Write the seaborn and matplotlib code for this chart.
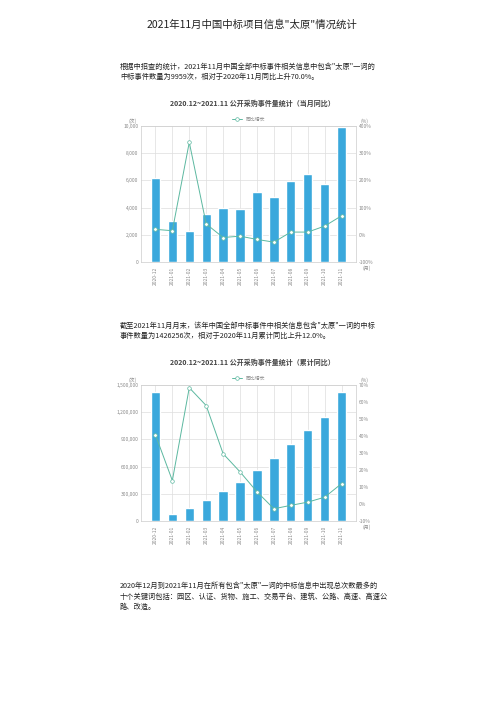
import numpy as np
import pandas as pd
import seaborn as sns
import matplotlib.pyplot as plt

sns.set_style("white")
plt.rcParams['font.family'] = ['Noto Sans CJK SC', 'DejaVu Sans']

months = ['2020-12', '2021-01', '2021-02', '2021-03', '2021-04', '2021-05',
          '2021-06', '2021-07', '2021-08', '2021-09', '2021-10', '2021-11']
monthly_count = [6150, 3000, 2300, 3500, 3950, 3900, 5150, 4800, 5950, 6450, 5700, 9959]
monthly_yoy = [20, 15, 340, 40, -10, -5, -17, -27, 10, 10, 32, 70]
cum_count = [1426256, 80000, 140000, 230000, 330000, 430000, 560000, 690000,
             850000, 1000000, 1150000, 1426256]
cum_yoy = [40.7, 13.8, 68.4, 57.9, 29.6, 18.9, 7.2, -2.8, -0.8, 1.1, 4.0, 12.0]

BAR = '#3aa8dc'
LINE = '#5cb8a0'

fig = plt.figure(figsize=(5.04, 7.13), dpi=100)
W, H = 504, 713


def box(l, t, r, b):
    return [l / W, 1 - b / H, (r - l) / W, (b - t) / H]


def draw(rect, counts, yoy, ymax, lticks, lfmt, rlim, rticks, title, top):
    ax = fig.add_axes(rect)
    df = pd.DataFrame({'month': months, 'count': counts, 'yoy': yoy})
    sns.barplot(data=df, x='month', y='count', color=BAR, saturation=1, width=0.55,
                ax=ax, zorder=2)
    ax.set_ylim(0, ymax)
    ax.set_yticks(lticks)
    ax.set_yticklabels([lfmt(v) for v in lticks], fontsize=3.5, color='#888888')
    ax.set_xlabel('')
    ax.set_ylabel('')
    ax.tick_params(axis='x', labelsize=3.5, labelcolor='#888888', rotation=90, length=0)
    ax.tick_params(axis='y', length=0, pad=2)
    ax.grid(True, color='#dddddd', linewidth=0.5, zorder=0)
    for s in ax.spines.values():
        s.set_color('#cccccc')
        s.set_linewidth(0.5)
    ax2 = ax.twinx()
    ax2.plot(range(len(months)), yoy, color=LINE, linewidth=0.7, zorder=3, label='同比增长',
             marker='o', markersize=2.6, markerfacecolor='white', markeredgecolor=LINE,
             markeredgewidth=0.5)
    ax2.set_ylim(*rlim)
    ax2.set_yticks(rticks)
    ax2.set_yticklabels([f'{v}%' for v in rticks], fontsize=3.5, color='#888888')
    ax2.tick_params(axis='y', length=0, pad=2)
    ax2.set_ylabel('')
    for s in ax2.spines.values():
        s.set_visible(False)
    leg = ax2.legend(loc='lower center', bbox_to_anchor=(0.5, 1.0), frameon=False,
                     fontsize=3.5, handlelength=2)
    for t in leg.get_texts():
        t.set_color('#888888')
    ax.text(-0.06, 1.02, '(次)', transform=ax.transAxes, fontsize=3.5, color='#888888')
    ax.text(1.02, 1.02, '(%)', transform=ax.transAxes, fontsize=3.5, color='#888888')
    ax.text(1.03, -0.06, '(月)', transform=ax.transAxes, fontsize=3.5, color='#888888')
    fig.text(0.5, 1 - top / H, title, ha='center', fontsize=5, fontweight='bold', color='#444444')


draw(box(141, 126, 356, 262), monthly_count, monthly_yoy, 10000,
     [0, 2000, 4000, 6000, 8000, 10000], lambda v: f'{v:,}',
     (-100, 400), [-100, 0, 100, 200, 300, 400],
     '2020.12~2021.11 公开采购事件量统计（当月同比）', 106)
draw(box(141, 385, 356, 521), cum_count, cum_yoy, 1500000,
     [0, 300000, 600000, 900000, 1200000, 1500000], lambda v: f'{v:,}',
     (-10, 70), [-10, 0, 10, 20, 30, 40, 50, 60, 70],
     '2020.12~2021.11 公开采购事件量统计（累计同比）', 365)

fig.text(0.5, 1 - 25 / H, '2021年11月中国中标项目信息"太原"情况统计', ha='center',
         va='center', fontsize=7.5, color='#222222')
para = dict(fontsize=5.2, color='#222222', va='top', linespacing=1.4)
fig.text(120 / W, 1 - 63 / H, '根据中招查的统计，2021年11月中国全部中标事件相关信息中包含"太原"一词的\n'
         '中标事件数量为9959次，相对于2020年11月同比上升70.0%。', **para)
fig.text(120 / W, 1 - 322 / H, '截至2021年11月月末，该年中国全部中标事件中相关信息包含"太原"一词的中标\n'
         '事件数量为1426256次，相对于2020年11月累计同比上升12.0%。', **para)
fig.text(120 / W, 1 - 582 / H, '2020年12月到2021年11月在所有包含"太原"一词的中标信息中出现总次数最多的\n'
         '十个关键词包括：园区、认证、货物、施工、交易平台、建筑、公路、高速、高速公\n路、改造。', **para)

fig.savefig('out.png', dpi=100)
